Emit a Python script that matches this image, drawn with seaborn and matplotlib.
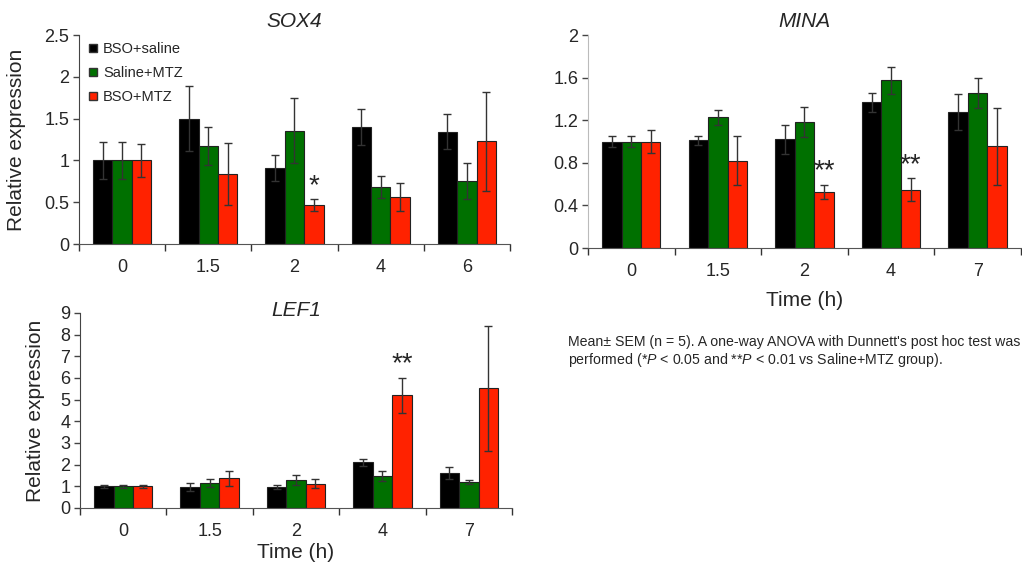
import numpy as np
import pandas as pd
import matplotlib
matplotlib.use("Agg")
import matplotlib.pyplot as plt
import seaborn as sns

# ---- data -------------------------------------------------------------
groups = ["BSO+saline", "Saline+MTZ", "BSO+MTZ"]
colors = ["#000000", "#007000", "#ff2200"]

sox4_times = ["0", "1.5", "2", "4", "6"]
sox4_mean = {
    "BSO+saline": [1.00, 1.50, 0.905, 1.40, 1.344],
    "Saline+MTZ": [1.00, 1.17, 1.356, 0.686, 0.754],
    "BSO+MTZ":    [1.00, 0.84, 0.463, 0.566, 1.228],
}
sox4_sem = {
    "BSO+saline": [0.22, 0.39, 0.155, 0.22, 0.21],
    "Saline+MTZ": [0.22, 0.23, 0.39, 0.13, 0.21],
    "BSO+MTZ":    [0.20, 0.37, 0.07, 0.17, 0.59],
}
sox4_stars = {2: "*"}

mina_times = ["0", "1.5", "2", "4", "7"]
mina_mean = {
    "BSO+saline": [1.00, 1.01, 1.022, 1.367, 1.276],
    "Saline+MTZ": [1.00, 1.229, 1.18, 1.574, 1.458],
    "BSO+MTZ":    [1.00, 0.818, 0.53, 0.549, 0.956],
}
mina_sem = {
    "BSO+saline": [0.055, 0.04, 0.135, 0.09, 0.17],
    "Saline+MTZ": [0.055, 0.07, 0.14, 0.13, 0.14],
    "BSO+MTZ":    [0.11, 0.23, 0.065, 0.105, 0.36],
}
mina_stars = {2: "**", 3: "**"}

lef1_times = ["0", "1.5", "2", "4", "7"]
lef1_mean = {
    "BSO+saline": [1.00, 0.97, 0.97, 2.10, 1.61],
    "Saline+MTZ": [1.00, 1.15, 1.29, 1.47, 1.21],
    "BSO+MTZ":    [1.00, 1.38, 1.12, 5.21, 5.52],
}
lef1_sem = {
    "BSO+saline": [0.08, 0.18, 0.10, 0.17, 0.26],
    "Saline+MTZ": [0.08, 0.20, 0.22, 0.22, 0.09],
    "BSO+MTZ":    [0.08, 0.35, 0.22, 0.81, 2.87],
}
lef1_stars = {3: "**"}

caption = ("Mean\u00b1 SEM (n = 5). A one-way ANOVA with Dunnett's post hoc test was\n"
           "performed (*$P$ < 0.05 and **$P$ < 0.01 vs Saline+MTZ group).")

# ---- style ------------------------------------------------------------
sns.set_style("ticks")
plt.rcParams["font.family"] = ["Liberation Sans", "DejaVu Sans"]
plt.rcParams["mathtext.fontset"] = "custom"
plt.rcParams["mathtext.rm"] = "Liberation Sans"
plt.rcParams["mathtext.it"] = "Liberation Sans:italic"

fig = plt.figure(figsize=(10.22, 5.66), dpi=100)
palette = dict(zip(groups, colors))


def panel(rect, title, times, means, sems, stars, ymax, ystep, yfmt,
          ylabel=True, xlabel=False, legend=False, left_spine="#444444",
          title_y=None, ylabelpad=6, xlabelpad=2):
    ax = fig.add_axes(rect)
    df = pd.DataFrame([
        {"Time": t, "Group": g, "Value": means[g][i]}
        for g in groups for i, t in enumerate(times)
    ])
    sns.barplot(data=df, x="Time", y="Value", hue="Group", order=times,
                hue_order=groups, palette=palette, width=0.675,
                errorbar=None, edgecolor="#222222", linewidth=0.8,
                saturation=1, ax=ax, legend=legend)
    # SEM error bars at the bar centres seaborn placed
    for g, cont in zip(groups, ax.containers):
        xs = [p.get_x() + p.get_width() / 2 for p in cont.patches]
        ax.errorbar(xs, means[g], yerr=sems[g], fmt="none",
                    ecolor="#333333", elinewidth=1.0, capsize=3,
                    capthick=1.0, zorder=5)
        if g == "BSO+MTZ":
            for i, s in stars.items():
                ax.annotate(s, (xs[i], means[g][i] + sems[g][i]),
                            xytext=(0, 0), textcoords="offset points",
                            ha="center", va="bottom", fontsize=20)
    ax.set_xlim(-0.5, len(times) - 0.5)
    ax.set_ylim(0, ymax)
    yt = np.arange(0, ymax + 1e-9, ystep)
    ax.set_yticks(yt)
    ax.set_yticklabels([yfmt(v) for v in yt])
    ax.set_xticks(range(len(times)))
    ax.set_xticks(np.arange(-0.5, len(times), 1.0), minor=True)
    ax.tick_params(axis="x", which="major", length=0, pad=11, labelsize=13)
    ax.tick_params(axis="x", which="minor", length=5, width=1, color="#333333")
    ax.tick_params(axis="y", length=4, width=1, pad=3, labelsize=13,
                   color="#444444")
    for sp in ("top", "right"):
        ax.spines[sp].set_visible(False)
    ax.spines["bottom"].set_color("#555555")
    ax.spines["left"].set_color(left_spine)
    if title_y is None:
        ax.set_title(title, fontsize=15, style="italic", pad=6)
    else:
        ax.set_title(title, fontsize=15, style="italic", y=title_y, pad=0)
    ax.set_ylabel("Relative expression" if ylabel else "", fontsize=15,
                  labelpad=ylabelpad)
    ax.set_xlabel("Time (h)" if xlabel else "", fontsize=15,
                  labelpad=xlabelpad)
    if legend:
        handles = [plt.Line2D([], [], marker="s", ls="", color=c,
                              markeredgecolor="#333333", markersize=5.5)
                   for c in colors]
        ax.legend(handles, groups, loc="upper left", frameon=False,
                  fontsize=10.5, handletextpad=0.3, labelspacing=0.7,
                  bbox_to_anchor=(-0.012, 1.03), handlelength=0.8)
    return ax


def fmt_plain(v):
    return ("%.1f" % v).rstrip("0").rstrip(".") if v else "0"


panel([0.0773, 0.5689, 0.4217, 0.369], "SOX4", sox4_times, sox4_mean,
      sox4_sem, sox4_stars, 2.5, 0.5, fmt_plain, legend=True,
      ylabelpad=13)
panel([0.5753, 0.5618, 0.4237, 0.3763], "MINA", mina_times, mina_mean,
      mina_sem, mina_stars, 2.0, 0.4, fmt_plain, ylabel=False,
      xlabel=True, left_spine="#bbbbbb", xlabelpad=8)
panel([0.0783, 0.1025, 0.4227, 0.3445], "LEF1", lef1_times, lef1_mean,
      lef1_sem, lef1_stars, 9, 1, lambda v: "%d" % v, xlabel=True,
      title_y=0.985, ylabelpad=11)

fig.text(0.556, 0.378, caption, fontsize=10.2, ha="left", va="center",
         linespacing=1.2)

fig.savefig("out.png", dpi=100)
